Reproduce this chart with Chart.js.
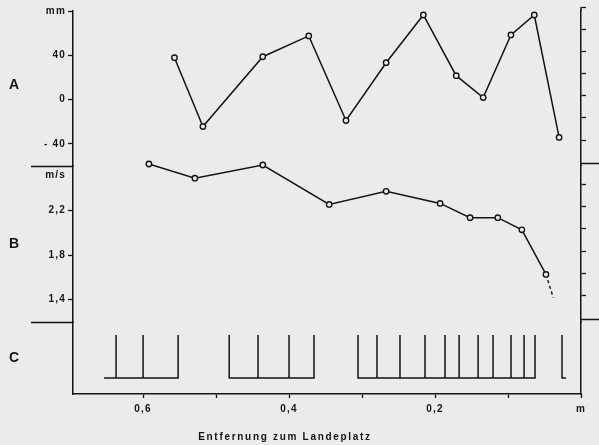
<!DOCTYPE html>
<html>
<head>
<meta charset="utf-8">
<script src="https://cdn.jsdelivr.net/npm/chart.js@4/dist/chart.umd.min.js"></script>
<style>
  html, body { margin: 0; padding: 0; background: #ebebeb; }
  #box { width: 599px; height: 445px; }
</style>
</head>
<body>
<div id="box"><canvas id="chart"></canvas></div>
<script>
// Panel A: amplitude (mm) over distance to landing site (m)
const distA = [0.557, 0.518, 0.436, 0.373, 0.322, 0.267, 0.216, 0.171, 0.134, 0.096, 0.064, 0.030];
const valA = [37.8, -24.3, 38.7, 57.5, -18.9, 33.3, 76.4, 21.6, 1.8, 58.4, 76.4, -34.2];

// Panel B: speed (m/s); last point is the dashed extrapolation
const distB = [0.592, 0.529, 0.436, 0.345, 0.267, 0.193, 0.152, 0.114, 0.081, 0.048, 0.038];
const valB = [2.618, 2.491, 2.609, 2.255, 2.373, 2.264, 2.136, 2.136, 2.027, 1.627, 1.418];

// Panel C: event groups (baseline start, spike positions, baseline end)
const groupStart = [0.6534, 0.482, 0.3055, 0.026];
const groupEnd = [0.552, 0.3658, 0.063, 0.0205];
const groupSpikes = [
  [0.637, 0.600, 0.552],
  [0.482, 0.4425, 0.400, 0.3658],
  [0.3055, 0.2795, 0.248, 0.2137, 0.1863, 0.167, 0.141, 0.1205, 0.0959, 0.078, 0.063],
  [0.026]
];

// tick labels
const xTicks = [0.6, 0.5, 0.4, 0.3, 0.2, 0.1, 0];
const xLabels = ["0,6", "", "0,4", "", "0,2", "", "m"];
const aTicks = [80, 60, 40, 20, 0, -20, -40];
const aLabels = ["mm", "", "40", "", "0", "", "- 40"];
const bTicks = [2.52, 2.4, 2.2, 2.0, 1.8, 1.6, 1.4];
const bLabels = ["m/s", "", "2,2", "", "1,8", "", "1,4"];
const rightShiftA = 3.4;
const rightShiftB = 0.037;

const ink = "#141414";
const bg = "#ebebeb";
const font = "'Liberation Sans', Arial, sans-serif";

const ptsA = distA.map((d, i) => ({ x: d, y: valA[i] }));
const ptsB = distB.map((d, i) => ({ x: d, y: valB[i] }));
const ptsC = [];
groupSpikes.forEach((spikes, g) => {
  ptsC.push({ x: groupStart[g], y: 0 });
  spikes.forEach((s) => {
    ptsC.push({ x: s, y: 0 }, { x: s, y: 1 }, { x: s, y: 0 });
  });
  ptsC.push({ x: groupEnd[g], y: 0 });
  ptsC.push({ x: groupEnd[g], y: null });
});

const setTicks = (values) => (scale) => {
  scale.ticks = values.map((v) => ({ value: v }));
};
const labelFrom = (values, labels) => (value) => {
  const i = values.findIndex((v) => Math.abs(v - value) < 1e-6);
  return i >= 0 ? labels[i] : "";
};

function leftAxis(min, max, weight, stackWeight, ticks, labels) {
  return {
    type: "linear",
    position: "left",
    stack: "left",
    stackWeight: stackWeight,
    weight: weight,
    min: min,
    max: max,
    afterBuildTicks: setTicks(ticks),
    afterFit: (s) => { s.width = 73; },
    border: { color: ink, width: 1.5 },
    grid: {
      drawOnChartArea: false,
      tickLength: 5,
      tickWidth: 1.3,
      tickColor: (ctx) => (ctx.tick && labels[ticks.indexOf(ctx.tick.value)] === "m/s" ? "transparent" : ink),
    },
    ticks: {
      display: ticks.length > 0,
      color: ink,
      padding: 2,
      font: { family: font, size: 10, weight: "bold" },
      callback: labelFrom(ticks, labels),
    },
  };
}

function rightAxis(min, max, weight, stackWeight, ticks) {
  return {
    type: "linear",
    position: "right",
    stack: "right",
    stackWeight: stackWeight,
    weight: weight,
    min: min,
    max: max,
    afterBuildTicks: setTicks(ticks),
    afterFit: (s) => { s.width = 18; },
    border: { color: ink, width: 1.5 },
    grid: { drawOnChartArea: false, drawTicks: ticks.length > 0, tickLength: 5, tickWidth: 1.3, color: ink },
    ticks: { display: false },
  };
}

const frame = {
  id: "frame",
  beforeDraw(chart) {
    chart.ctx.letterSpacing = "1.2px";
  },
  afterDraw(chart) {
    const { ctx, chartArea, scales } = chart;
    ctx.save();
    ctx.strokeStyle = ink;
    ctx.lineWidth = 1.5;
    ["yA", "yB"].forEach((id) => {
      const y = Math.round(scales[id].bottom) + 0.5;
      ctx.beginPath();
      ctx.moveTo(31, y);
      ctx.lineTo(chartArea.left, y);
      ctx.moveTo(chartArea.right, y - 3);
      ctx.lineTo(chart.width, y - 3);
      ctx.stroke();
    });
    // right axis reaches a little above the plot top
    ctx.beginPath();
    ctx.moveTo(chartArea.right, chartArea.top - 4);
    ctx.lineTo(chartArea.right, chartArea.top);
    ctx.stroke();
    ctx.fillStyle = ink;
    ctx.textAlign = "center";
    ctx.textBaseline = "middle";
    ctx.letterSpacing = "0px";
    ctx.font = "bold 14px " + font;
    [["yA", "A", -3], ["yB", "B", 0], ["yC", "C", 0]].forEach(([id, letter, dy]) => {
      const s = scales[id];
      ctx.fillText(letter, 14, (s.top + s.bottom) / 2 + dy);
    });
    ctx.font = "bold 10px " + font;
    ctx.letterSpacing = "1.7px";
    ctx.fillText("Entfernung zum Landeplatz", 285, 437);
    ctx.restore();
  },
};

new Chart(document.getElementById("chart"), {
  type: "line",
  data: {
    datasets: [
      {
        data: ptsA,
        yAxisID: "yA",
        clip: false,
        borderColor: ink,
        borderWidth: 1.5,
        pointRadius: 2.7,
        pointBorderWidth: 1.4,
        pointBorderColor: ink,
        pointBackgroundColor: bg,
        tension: 0,
      },
      {
        data: ptsB,
        yAxisID: "yB",
        clip: false,
        borderColor: ink,
        borderWidth: 1.5,
        pointRadius: (ctx) => (ctx.dataIndex === valB.length - 1 ? 0 : 2.7),
        pointBorderWidth: 1.4,
        pointBorderColor: ink,
        pointBackgroundColor: bg,
        tension: 0,
        segment: {
          borderDash: (ctx) => (ctx.p1DataIndex === valB.length - 1 ? [3, 3] : undefined),
        },
      },
      {
        data: ptsC,
        yAxisID: "yC",
        clip: false,
        borderColor: ink,
        borderWidth: 1.5,
        pointRadius: 0,
        spanGaps: false,
        tension: 0,
      },
    ],
  },
  options: {
    responsive: true,
    maintainAspectRatio: false,
    animation: false,
    layout: { padding: { top: 11, left: 0, right: 0, bottom: 0 } },
    plugins: { legend: { display: false }, tooltip: { enabled: false } },
    scales: {
      x: {
        type: "linear",
        position: "bottom",
        reverse: true,
        min: 0,
        max: 0.696,
        afterBuildTicks: setTicks(xTicks),
        afterFit: (s) => { s.height = 51; },
        border: { color: ink, width: 1.5 },
        grid: { drawOnChartArea: false, tickLength: 4, tickWidth: 1.3, color: ink },
        ticks: {
          color: ink,
          padding: 5,
          autoSkip: false,
          maxRotation: 0,
          font: { family: font, size: 10, weight: "bold" },
          callback: labelFrom(xTicks, xLabels),
        },
      },
      yA: leftAxis(-60, 80, 3, 155, aTicks, aLabels),
      yB: leftAxis(1.2, 2.6, 2, 156, bTicks, bLabels),
      yC: leftAxis(-0.37, 1.3, 1, 72, [], []),
      rA: rightAxis(-60, 80, 1, 155, aTicks.map((v) => v + rightShiftA)),
      rB: rightAxis(1.2, 2.6, 2, 156, bTicks.slice(1).map((v) => v + rightShiftB)),
      rC: rightAxis(-0.37, 1.3, 3, 72, []),
    },
  },
  plugins: [frame],
});
</script>
</body>
</html>
